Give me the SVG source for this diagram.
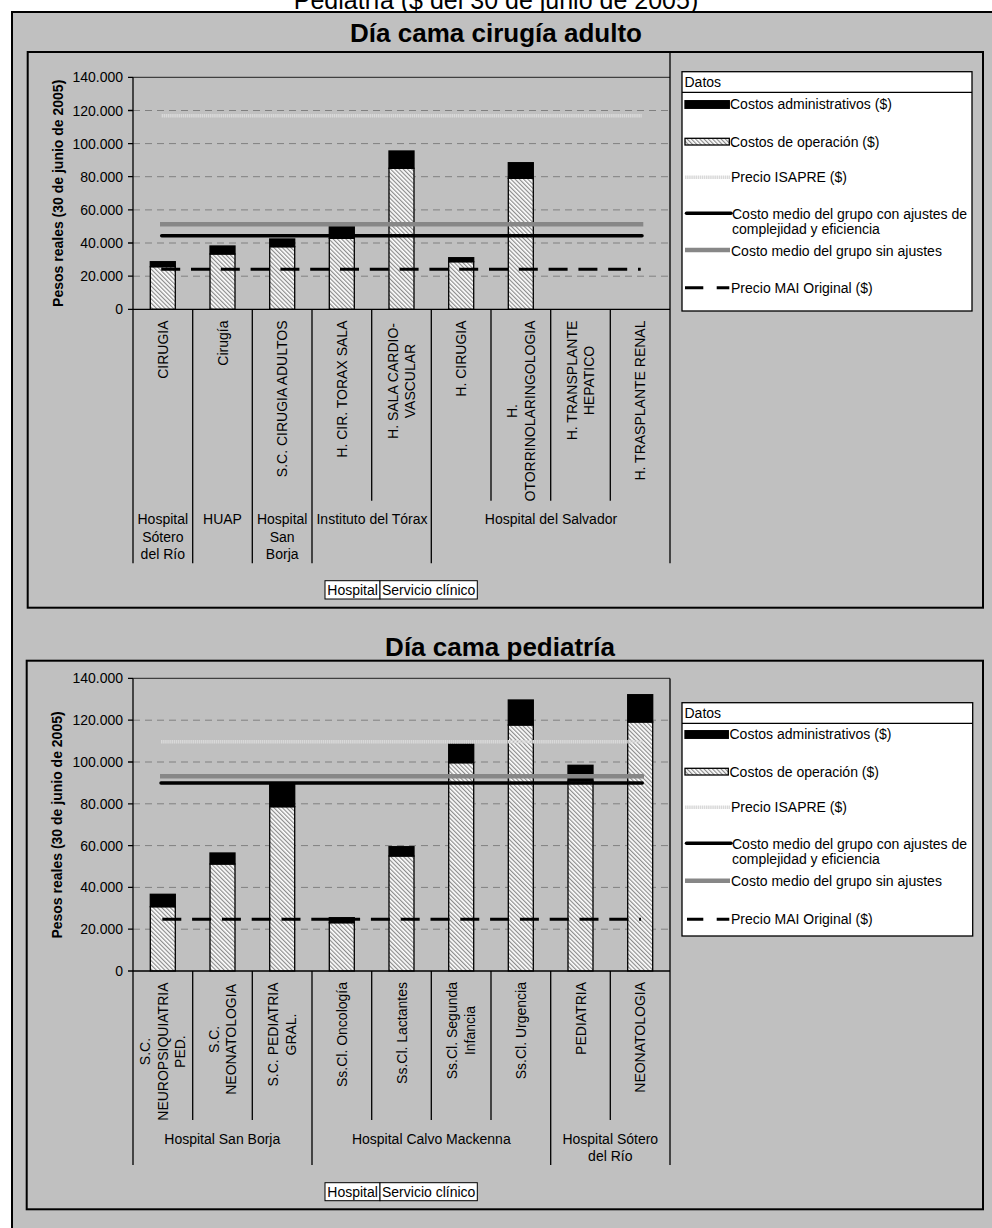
<svg xmlns="http://www.w3.org/2000/svg" width="992" height="1228" viewBox="0 0 992 1228">
<defs>
  <pattern id="hatch" patternUnits="userSpaceOnUse" width="3" height="3" patternTransform="rotate(-45)">
    <rect width="3" height="3" fill="#ffffff"/>
    <rect width="1.2" height="3" fill="#8c8c8c"/>
  </pattern>
</defs>
<style>
  text { font-family: "Liberation Sans", Arial, sans-serif; fill: #000; font-size: 14px; }
  .head { font-size: 25px; text-anchor: middle; }
  .title { font-size: 26px; font-weight: bold; text-anchor: middle; }
  .ytitle { font-weight: bold; text-anchor: middle; }
  .tick { text-anchor: end; }
  .cat { text-anchor: end; }
  .catm { text-anchor: middle; }
  .grp { text-anchor: middle; }
  .grid { stroke: #808080; stroke-width: 1; stroke-dasharray: 7 5; fill: none; }
  .ptop { stroke: #404040; stroke-width: 1.2; fill: none; }
  .axis { stroke: #000; stroke-width: 1.3; fill: none; }
  .box { fill: none; stroke: #000; stroke-width: 2; }
  .op { fill: url(#hatch); stroke: #000; stroke-width: 1.3; }
  .adm { fill: #000; stroke: #000; stroke-width: 1.3; }
  .isapre { stroke: #d9d9d9; stroke-width: 3.4; stroke-dasharray: 1.5 0.6; fill: none; }
  .sin { stroke: #878787; stroke-width: 4.5; fill: none; }
  .con { stroke: #000; stroke-width: 3.5; stroke-linecap: round; fill: none; }
  .mai { stroke: #000; stroke-width: 3; stroke-dasharray: 19 10.8; fill: none; }
  .maileg { stroke: #000; stroke-width: 3; fill: none; }
  .legbox { fill: #fff; stroke: #000; stroke-width: 1.3; }
  .btn { fill: #fff; stroke: #000; stroke-width: 1; }
</style>

<rect x="0" y="0" width="992" height="1228" fill="#ffffff"/>
<text class="head" x="496" y="9">Pediatría  ($ del 30 de junio de 2005)</text>
<rect x="12" y="12" width="990" height="1230" fill="#c0c0c0" stroke="#000" stroke-width="2"/>

<!-- ============ Chart 1: adult surgery bed-day ============ -->
<g id="chart-cirugia">
  <text class="title" x="496" y="42">Día cama cirugía adulto</text>
  <rect class="box" x="27.7" y="52" width="955.3" height="555.7"/>

  <g id="c1-grid">
    <line class="grid" x1="133" y1="276.2" x2="670" y2="276.2"/>
    <line class="grid" x1="133" y1="243" x2="670" y2="243"/>
    <line class="grid" x1="133" y1="209.9" x2="670" y2="209.9"/>
    <line class="grid" x1="133" y1="176.7" x2="670" y2="176.7"/>
    <line class="grid" x1="133" y1="143.6" x2="670" y2="143.6"/>
    <line class="grid" x1="133" y1="110.5" x2="670" y2="110.5"/>
    <line class="ptop" x1="133" y1="77.3" x2="670" y2="77.3"/>
  </g>

  <g id="c1-yaxis">
    <path class="axis" d="M128 309.3H133M128 276.2H133M128 243H133M128 209.9H133M128 176.7H133M128 143.6H133M128 110.5H133M128 77.3H133"/>
    <text class="tick" x="123" y="314.3">0</text>
    <text class="tick" x="123" y="281.2">20.000</text>
    <text class="tick" x="123" y="248">40.000</text>
    <text class="tick" x="123" y="214.9">60.000</text>
    <text class="tick" x="123" y="181.7">80.000</text>
    <text class="tick" x="123" y="148.6">100.000</text>
    <text class="tick" x="123" y="115.5">120.000</text>
    <text class="tick" x="123" y="82.3">140.000</text>
    <text class="ytitle" transform="translate(63.3,193.3) rotate(-90)">Pesos reales (30 de junio de 2005)</text>
  </g>

  <g id="c1-bars">
    <rect class="op" x="150.3" y="266.7" width="25" height="42.6"/>
    <rect class="adm" x="150.3" y="261.7" width="25" height="5"/>
    <rect class="op" x="210" y="254" width="25" height="55.3"/>
    <rect class="adm" x="210" y="246" width="25" height="8"/>
    <rect class="op" x="269.7" y="246.7" width="25" height="62.6"/>
    <rect class="adm" x="269.7" y="239" width="25" height="7.7"/>
    <rect class="op" x="329.3" y="238.3" width="25" height="71"/>
    <rect class="adm" x="329.3" y="226.7" width="25" height="11.6"/>
    <rect class="op" x="389" y="168.3" width="25" height="141"/>
    <rect class="adm" x="389" y="151" width="25" height="17.3"/>
    <rect class="op" x="448.7" y="261.7" width="25" height="47.6"/>
    <rect class="adm" x="448.7" y="257.7" width="25" height="4"/>
    <rect class="op" x="508.3" y="178.3" width="25" height="131"/>
    <rect class="adm" x="508.3" y="162.7" width="25" height="15.6"/>
  </g>

  <g id="c1-lines">
    <line class="isapre" x1="161.7" y1="115.7" x2="641.7" y2="115.7"/>
    <line class="sin" x1="160" y1="224.3" x2="643.3" y2="224.3"/>
    <line class="con" x1="161.7" y1="235.7" x2="642" y2="235.7"/>
    <line class="mai" x1="161.2" y1="269.3" x2="640.7" y2="269.3"/>
  </g>

  <g id="c1-xaxis">
    <line class="axis" x1="133" y1="309.3" x2="670" y2="309.3"/>
    <line class="axis" x1="133" y1="77.3" x2="133" y2="563.3"/>
    <line class="axis" x1="670" y1="52" x2="670" y2="563.3"/>
    <path class="axis" d="M192.7 309.3V563.3M252.3 309.3V563.3M312 309.3V563.3M431.3 309.3V563.3"/>
    <path class="axis" d="M371.7 309.3V500.7M491 309.3V500.7M550.7 309.3V500.7M610.3 309.3V500.7"/>

    <text class="cat" transform="translate(167.8,320.5) rotate(-90)">CIRUGIA</text>
    <text class="cat" transform="translate(227.5,320.5) rotate(-90)">Cirugía</text>
    <text class="cat" transform="translate(287.2,320.5) rotate(-90)">S.C. CIRUGIA ADULTOS</text>
    <text class="cat" transform="translate(346.8,320.5) rotate(-90)">H. CIR. TORAX SALA</text>
    <text class="catm" transform="translate(397.8,381) rotate(-90)">H. SALA CARDIO-</text>
    <text class="catm" transform="translate(415.3,381) rotate(-90)">VASCULAR</text>
    <text class="cat" transform="translate(466.2,320.5) rotate(-90)">H. CIRUGIA</text>
    <text class="catm" transform="translate(517.1,411) rotate(-90)">H.</text>
    <text class="catm" transform="translate(534.6,411) rotate(-90)">OTORRINOLARINGOLOGIA</text>
    <text class="catm" transform="translate(576.8,380.5) rotate(-90)">H. TRANSPLANTE</text>
    <text class="catm" transform="translate(594.3,380.5) rotate(-90)">HEPATICO</text>
    <text class="cat" transform="translate(645.2,320.5) rotate(-90)">H. TRASPLANTE RENAL</text>

    <text class="grp" x="162.8" y="524">Hospital</text>
    <text class="grp" x="162.8" y="541.5">Sótero</text>
    <text class="grp" x="162.8" y="559">del Río</text>
    <text class="grp" x="222.5" y="524">HUAP</text>
    <text class="grp" x="282.2" y="524">Hospital</text>
    <text class="grp" x="282.2" y="541.5">San</text>
    <text class="grp" x="282.2" y="559">Borja</text>
    <text class="grp" x="372" y="524">Instituto del Tórax</text>
    <text class="grp" x="551" y="524">Hospital del Salvador</text>
  </g>

  <g id="c1-fields">
    <rect class="btn" x="325" y="580.7" width="55" height="18.3"/>
    <rect class="btn" x="380" y="580.7" width="97.3" height="18.3"/>
    <text x="327.3" y="594.7">Hospital</text>
    <text x="382" y="594.7">Servicio clínico</text>
  </g>

  <g id="c1-legend">
    <rect class="legbox" x="682" y="71.7" width="290" height="239.3"/>
    <line class="axis" x1="682" y1="92.3" x2="972" y2="92.3"/>
    <text x="684.5" y="87">Datos</text>
    <rect class="adm" x="685" y="100.7" width="44.3" height="7.6"/>
    <text x="730" y="109.3">Costos administrativos ($)</text>
    <rect class="op" x="685" y="138.3" width="44.3" height="6.7"/>
    <text x="730" y="146.7">Costos de operación ($)</text>
    <line class="isapre" x1="685" y1="177.3" x2="730" y2="177.3"/>
    <text x="731" y="182.3">Precio ISAPRE ($)</text>
    <line class="con" x1="686.5" y1="213.3" x2="731" y2="213.3"/>
    <text x="732" y="219">Costo medio del grupo con ajustes de</text>
    <text x="732" y="234.3">complejidad y eficiencia</text>
    <line class="sin" x1="685" y1="250" x2="730" y2="250"/>
    <text x="731" y="255.7">Costo medio del grupo sin ajustes</text>
    <path class="maileg" d="M685 287.7H703.3M716.7 287.7H729.3"/>
    <text x="731" y="292.7">Precio MAI Original ($)</text>
  </g>
</g>

<!-- ============ Chart 2: paediatric bed-day ============ -->
<g id="chart-pediatria">
  <text class="title" x="500" y="655.7">Día cama pediatría</text>
  <rect class="box" x="26.7" y="660.7" width="956.3" height="548.6"/>

  <g id="c2-grid">
    <line class="grid" x1="133" y1="929.2" x2="670" y2="929.2"/>
    <line class="grid" x1="133" y1="887.4" x2="670" y2="887.4"/>
    <line class="grid" x1="133" y1="845.6" x2="670" y2="845.6"/>
    <line class="grid" x1="133" y1="803.8" x2="670" y2="803.8"/>
    <line class="grid" x1="133" y1="762" x2="670" y2="762"/>
    <line class="grid" x1="133" y1="720.2" x2="670" y2="720.2"/>
    <line class="ptop" x1="133" y1="678.4" x2="670" y2="678.4"/>
  </g>

  <g id="c2-yaxis">
    <path class="axis" d="M128 971H133M128 929.2H133M128 887.4H133M128 845.6H133M128 803.8H133M128 762H133M128 720.2H133M128 678.4H133"/>
    <text class="tick" x="123" y="976">0</text>
    <text class="tick" x="123" y="934.2">20.000</text>
    <text class="tick" x="123" y="892.4">40.000</text>
    <text class="tick" x="123" y="850.6">60.000</text>
    <text class="tick" x="123" y="808.8">80.000</text>
    <text class="tick" x="123" y="767">100.000</text>
    <text class="tick" x="123" y="725.2">120.000</text>
    <text class="tick" x="123" y="683.4">140.000</text>
    <text class="ytitle" transform="translate(61.7,825) rotate(-90)">Pesos reales (30 de junio de 2005)</text>
  </g>

  <g id="c2-bars">
    <rect class="op" x="150.3" y="906.7" width="25" height="64.3"/>
    <rect class="adm" x="150.3" y="894.3" width="25" height="12.4"/>
    <rect class="op" x="210" y="864" width="25" height="107"/>
    <rect class="adm" x="210" y="853" width="25" height="11"/>
    <rect class="op" x="269.7" y="806.7" width="25" height="164.3"/>
    <rect class="adm" x="269.7" y="784.3" width="25" height="22.4"/>
    <rect class="op" x="329.3" y="922.7" width="25" height="48.3"/>
    <rect class="adm" x="329.3" y="917.7" width="25" height="5"/>
    <rect class="op" x="389" y="856" width="25" height="115"/>
    <rect class="adm" x="389" y="846.7" width="25" height="9.3"/>
    <rect class="op" x="448.7" y="762.7" width="25" height="208.3"/>
    <rect class="adm" x="448.7" y="744.3" width="25" height="18.4"/>
    <rect class="op" x="508.3" y="725" width="25" height="246"/>
    <rect class="adm" x="508.3" y="700" width="25" height="25"/>
    <rect class="op" x="568" y="781" width="25" height="190"/>
    <rect class="adm" x="568" y="765.3" width="25" height="15.7"/>
    <rect class="op" x="627.7" y="722" width="25" height="249"/>
    <rect class="adm" x="627.7" y="694.7" width="25" height="27.3"/>
  </g>

  <g id="c2-lines">
    <line class="isapre" x1="161" y1="741.7" x2="642.7" y2="741.7"/>
    <line class="sin" x1="160" y1="776.3" x2="644" y2="776.3"/>
    <line class="con" x1="161" y1="783" x2="642.3" y2="783"/>
    <line class="mai" x1="162.3" y1="919.3" x2="641" y2="919.3"/>
  </g>

  <g id="c2-xaxis">
    <line class="axis" x1="133" y1="971" x2="670" y2="971"/>
    <line class="axis" x1="133" y1="678.4" x2="133" y2="1165"/>
    <line class="axis" x1="670" y1="678.4" x2="670" y2="1165"/>
    <path class="axis" d="M312 971V1165M550.7 971V1165"/>
    <path class="axis" d="M192.7 971V1120M252.3 971V1120M371.7 971V1120M431.3 971V1120M491 971V1120M610.3 971V1120"/>

    <text class="catm" transform="translate(150.3,1051.6) rotate(-90)">S.C.</text>
    <text class="catm" transform="translate(167.8,1051.6) rotate(-90)">NEUROPSIQUIATRIA</text>
    <text class="catm" transform="translate(185.3,1051.6) rotate(-90)">PED.</text>
    <text class="catm" transform="translate(218.7,1039.4) rotate(-90)">S.C.</text>
    <text class="catm" transform="translate(236.2,1039.4) rotate(-90)">NEONATOLOGIA</text>
    <text class="catm" transform="translate(278.4,1034.5) rotate(-90)">S.C. PEDIATRIA</text>
    <text class="catm" transform="translate(295.9,1034.5) rotate(-90)">GRAL.</text>
    <text class="cat" transform="translate(346.8,982) rotate(-90)">Ss.Cl. Oncología</text>
    <text class="cat" transform="translate(406.5,982) rotate(-90)">Ss.Cl. Lactantes</text>
    <text class="catm" transform="translate(457.4,1030.6) rotate(-90)">Ss.Cl. Segunda</text>
    <text class="catm" transform="translate(474.9,1030.6) rotate(-90)">Infancia</text>
    <text class="cat" transform="translate(525.8,982) rotate(-90)">Ss.Cl. Urgencia</text>
    <text class="cat" transform="translate(585.5,982) rotate(-90)">PEDIATRIA</text>
    <text class="cat" transform="translate(645.2,982) rotate(-90)">NEONATOLOGIA</text>

    <text class="grp" x="222.3" y="1143.5">Hospital San Borja</text>
    <text class="grp" x="431.3" y="1143.5">Hospital Calvo Mackenna</text>
    <text class="grp" x="610.3" y="1143.5">Hospital Sótero</text>
    <text class="grp" x="610.3" y="1161">del Río</text>
  </g>

  <g id="c2-fields">
    <rect class="btn" x="325" y="1182.7" width="55" height="18"/>
    <rect class="btn" x="380" y="1182.7" width="97.3" height="18"/>
    <text x="327.3" y="1196.5">Hospital</text>
    <text x="382" y="1196.5">Servicio clínico</text>
  </g>

  <g id="c2-legend" transform="translate(0,630)">
    <rect class="legbox" x="682" y="72.7" width="290.7" height="233.3"/>
    <line class="axis" x1="682" y1="93.3" x2="972.7" y2="93.3"/>
    <text x="684.5" y="88">Datos</text>
    <rect class="adm" x="685" y="100.7" width="43.3" height="7.6"/>
    <text x="729.5" y="109.3">Costos administrativos ($)</text>
    <rect class="op" x="685" y="138.3" width="43.3" height="6.7"/>
    <text x="729.5" y="146.7">Costos de operación ($)</text>
    <line class="isapre" x1="685" y1="177.3" x2="730" y2="177.3"/>
    <text x="731" y="182.3">Precio ISAPRE ($)</text>
    <line class="con" x1="686.5" y1="213.3" x2="731" y2="213.3"/>
    <text x="732" y="219">Costo medio del grupo con ajustes de</text>
    <text x="732" y="234.3">complejidad y eficiencia</text>
    <line class="sin" x1="685" y1="250.7" x2="730" y2="250.7"/>
    <text x="731" y="255.7">Costo medio del grupo sin ajustes</text>
    <path class="maileg" d="M687 289.3H703.3M716.7 289.3H729.3"/>
    <text x="731" y="294.3">Precio MAI Original ($)</text>
  </g>
</g>
</svg>
